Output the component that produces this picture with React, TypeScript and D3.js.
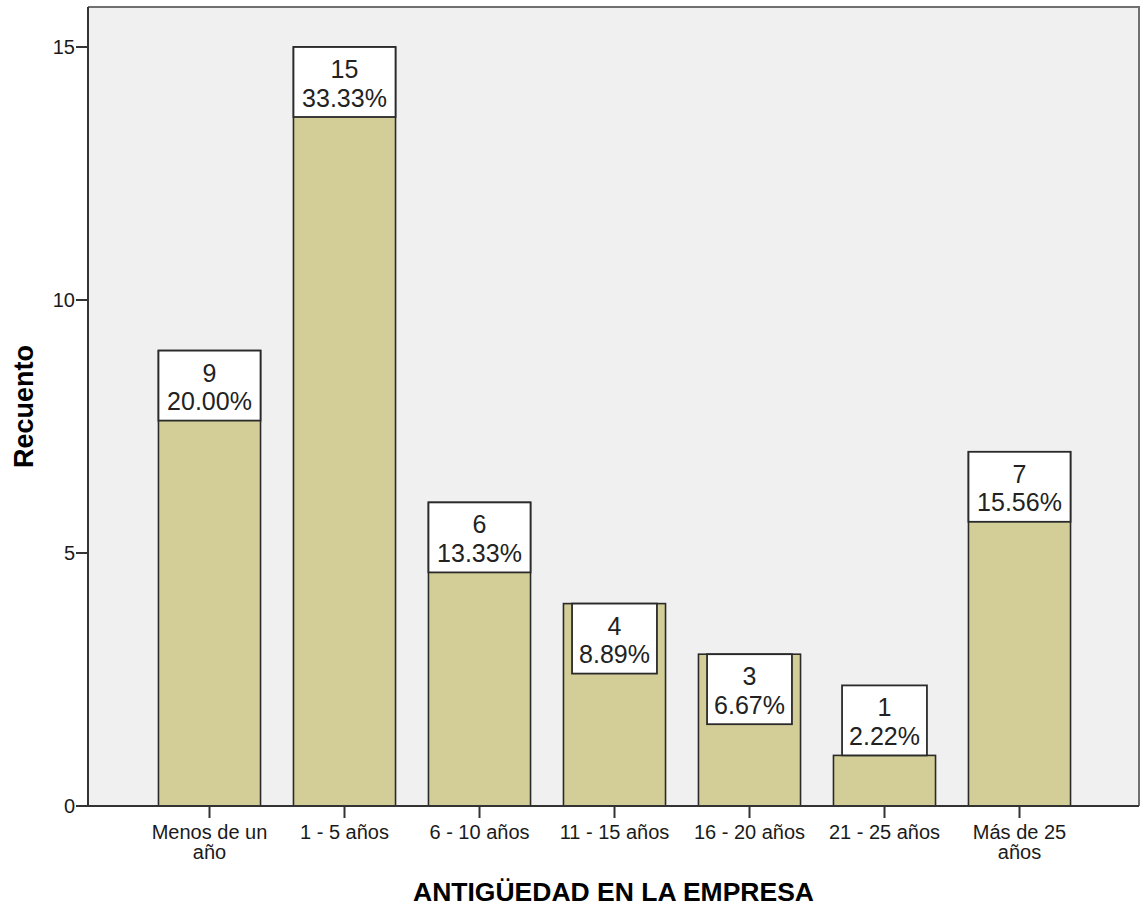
import React from "react";
import * as d3 from "d3";

// Antigüedad en la empresa: recuento por tramo
const categories = [
  "Menos de un año",
  "1 - 5 años",
  "6 - 10 años",
  "11 - 15 años",
  "16 - 20 años",
  "21 - 25 años",
  "Más de 25 años",
];
const tickLabelLines = [
  ["Menos de un", "año"],
  ["1 - 5 años"],
  ["6 - 10 años"],
  ["11 - 15 años"],
  ["16 - 20 años"],
  ["21 - 25 años"],
  ["Más de 25", "años"],
];
const counts = [9, 15, 6, 4, 3, 1, 7];
const yTicks = [0, 5, 10, 15];

const W = 1140;
const H = 907;
const frame = { left: 88, top: 7, right: 1139, bottom: 806 };
const FONT = "'Liberation Sans', Arial, sans-serif";
const LABEL_FONT_SIZE = 25;
const BOX_H = 70;

function textWidth(s: string, size: number): number {
  const c = document.createElement("canvas").getContext("2d");
  if (!c) return s.length * size * 0.56;
  c.font = `${size}px ${FONT}`;
  return c.measureText(s).width;
}

export default function App() {
  const total = d3.sum(counts);
  const y = d3.scaleLinear().domain([0, 15]).range([frame.bottom, 47]);
  const x = d3
    .scaleBand<string>()
    .domain(categories)
    .range([142, 1087])
    .paddingInner(0.244)
    .paddingOuter(0.122);
  const bw = x.bandwidth();

  return (
    <>
      <style>{`body{margin:0;background:#fff}`}</style>
      <svg width={W} height={H} style={{ display: "block", fontFamily: FONT }}>
        {/* plot area */}
        <rect
          x={frame.left}
          y={frame.top}
          width={frame.right - frame.left}
          height={frame.bottom - frame.top}
          fill="#f0f0f0"
        />
        <path
          d={`M${frame.left},${frame.top}H${frame.right}V${frame.bottom}`}
          fill="none"
          stroke="#707070"
          strokeWidth={2}
        />

        {/* bars */}
        {categories.map((c, i) => {
          const x0 = x(c) as number;
          const yTop = y(counts[i]);
          return (
            <rect
              key={"bar" + c}
              x={x0}
              y={yTop}
              width={bw}
              height={y(0) - yTop}
              fill="#d3ce97"
              stroke="#2a2a2a"
              strokeWidth={1.6}
            />
          );
        })}

        {/* value labels */}
        {categories.map((c, i) => {
          const x0 = x(c) as number;
          const cx = x0 + bw / 2;
          const yTop = y(counts[i]);
          const pct = ((counts[i] / total) * 100).toFixed(2) + "%";
          const tw = Math.max(
            textWidth(String(counts[i]), LABEL_FONT_SIZE),
            textWidth(pct, LABEL_FONT_SIZE)
          );
          let boxW = tw + 14;
          if (boxW > bw - 8) boxW = bw;
          const barH = y(0) - yTop;
          const boxTop = barH >= BOX_H ? yTop : yTop - BOX_H;
          return (
            <g key={"lab" + c}>
              <rect
                x={cx - boxW / 2}
                y={boxTop}
                width={boxW}
                height={BOX_H}
                fill="#ffffff"
                stroke="#2a2a2a"
                strokeWidth={1.8}
              />
              <text
                x={cx}
                y={boxTop + 31}
                textAnchor="middle"
                fontSize={LABEL_FONT_SIZE}
                fill="#222"
              >
                {counts[i]}
              </text>
              <text
                x={cx}
                y={boxTop + 59.5}
                textAnchor="middle"
                fontSize={LABEL_FONT_SIZE}
                fill="#222"
              >
                {pct}
              </text>
            </g>
          );
        })}

        {/* axes */}
        <line
          x1={frame.left}
          x2={frame.left}
          y1={frame.top}
          y2={frame.bottom}
          stroke="#333"
          strokeWidth={2}
        />
        <line
          x1={frame.left}
          x2={frame.right}
          y1={frame.bottom}
          y2={frame.bottom}
          stroke="#333"
          strokeWidth={2}
        />
        {yTicks.map((t) => (
          <g key={"yt" + t}>
            <line
              x1={frame.left - 12}
              x2={frame.left}
              y1={y(t)}
              y2={y(t)}
              stroke="#333"
              strokeWidth={2}
            />
            <text
              x={frame.left - 13}
              y={y(t) + 7}
              textAnchor="end"
              fontSize={20}
              fill="#1a1a1a"
            >
              {t}
            </text>
          </g>
        ))}
        {categories.map((c, i) => {
          const cx = (x(c) as number) + bw / 2;
          return (
            <g key={"xt" + c}>
              <line
                x1={cx}
                x2={cx}
                y1={frame.bottom}
                y2={frame.bottom + 12}
                stroke="#333"
                strokeWidth={2}
              />
              {tickLabelLines[i].map((ln, j) => (
                <text
                  key={j}
                  x={cx}
                  y={839 + j * 20}
                  textAnchor="middle"
                  fontSize={20}
                  fill="#1a1a1a"
                >
                  {ln}
                </text>
              ))}
            </g>
          );
        })}

        {/* axis titles */}
        <text
          x={(frame.left + frame.right) / 2}
          y={901}
          textAnchor="middle"
          fontSize={26.5}
          fontWeight="bold"
          fill="#000"
        >
          ANTIGÜEDAD EN LA EMPRESA
        </text>
        <text
          transform={`translate(33,${(frame.top + frame.bottom) / 2}) rotate(-90)`}
          textAnchor="middle"
          fontSize={27}
          fontWeight="bold"
          fill="#000"
        >
          Recuento
        </text>
      </svg>
    </>
  );
}
